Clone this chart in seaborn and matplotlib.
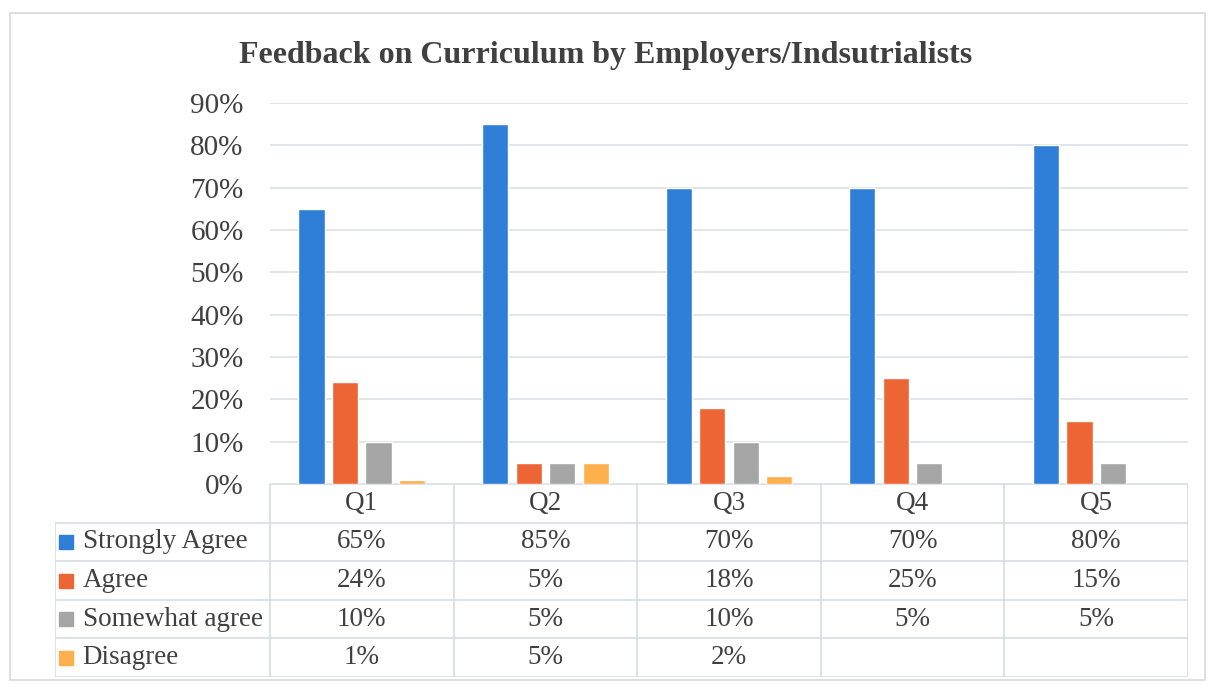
import numpy as np
import pandas as pd
import matplotlib
matplotlib.use('Agg')
import matplotlib.pyplot as plt
import seaborn as sns
from matplotlib.patches import Rectangle

# Data
questions = ['Q1', 'Q2', 'Q3', 'Q4', 'Q5']
series = ['Strongly Agree', 'Agree', 'Somewhat agree', 'Disagree']
strongly_agree = [65, 85, 70, 70, 80]
agree = [24, 5, 18, 25, 15]
somewhat_agree = [10, 5, 10, 5, 5]
disagree = [1, 5, 2, None, None]
colors = ['#2F7FD8', '#EE6535', '#A5A5A5', '#FDB04C']

values = [strongly_agree, agree, somewhat_agree, disagree]
rows = []
for name, vals in zip(series, values):
    for q, v in zip(questions, vals):
        if v is not None:
            rows.append({'question': q, 'series': name, 'value': v / 100})
df = pd.DataFrame(rows)

sns.set_theme(style='white')
plt.rcParams['font.family'] = ['Liberation Serif', 'DejaVu Serif']

W, H = 1211, 684
fig = plt.figure(figsize=(W / 100, H / 100), dpi=100)

def fx(px):
    return px / W

def fy(py):
    return 1 - py / H

# outer chart frame
fig.patches.append(Rectangle((fx(10), fy(680)), fx(1205) - fx(10), fy(13) - fy(680),
                             transform=fig.transFigure, fill=False,
                             edgecolor='#D9D9D9', linewidth=1.2))

# bar chart area
ax = fig.add_axes([fx(270), fy(484), fx(1188) - fx(270), fy(103) - fy(484)])
sns.barplot(data=df, x='question', y='value', hue='series', hue_order=series,
            order=questions, palette=colors, width=0.73, gap=0.22,
            saturation=1, ax=ax, legend=False)
ax.set_xlim(-0.5, 4.5)
ax.set_ylim(0, 0.9)
ax.set_yticks(np.arange(0, 0.91, 0.1))
ax.set_yticklabels([f'{int(round(t * 100))}%' for t in np.arange(0, 0.91, 0.1)],
                   fontsize=21, color='#404040')
ax.tick_params(axis='y', length=0, pad=19)
ax.set_xticks([])
ax.set_xlabel('')
ax.set_ylabel('')
ax.yaxis.grid(True, color='#D9DEE6', linewidth=1.1)
ax.set_axisbelow(True)
for s in ax.spines.values():
    s.set_visible(False)

fig.text(0.5, fy(55), 'Feedback on Curriculum by Employers/Indsutrialists',
         ha='center', va='center', fontsize=23, fontweight='bold', color='#404040')

# data table below the chart
label_w = (270 - 55) / ((1188 - 270) / 5)
tax = fig.add_axes([fx(55), fy(677), fx(1188) - fx(55), fy(484) - fy(677)])
tax.set_xlim(-0.5 - label_w, 4.5)
tax.set_ylim(5, 0)
tax.axis('off')
line_kw = dict(color='#D3D9E2', linewidth=1.1)

# header row
tax.plot([-0.5, 4.5], [0, 0], **line_kw)
for i in range(6):
    tax.plot([i - 0.5, i - 0.5], [0, 5], **line_kw)
tax.plot([-0.5 - label_w, -0.5 - label_w], [1, 5], **line_kw)
for r in range(1, 6):
    tax.plot([-0.5 - label_w, 4.5], [r, r], **line_kw)

for i, q in enumerate(questions):
    tax.text(i, 0.5, q, ha='center', va='center', fontsize=19.5, color='#404040')

for r, (name, vals, c) in enumerate(zip(series, values, colors), start=1):
    tax.plot(-0.5 - label_w + 0.06, r + 0.5, marker='s', markersize=10,
             color=c, linestyle='none')
    tax.text(-0.5 - label_w + 0.15, r + 0.5, name, ha='left', va='center',
             fontsize=19.5, color='#404040')
    for i, v in enumerate(vals):
        if v is not None:
            tax.text(i, r + 0.5, f'{v}%', ha='center', va='center',
                     fontsize=19.5, color='#404040')

fig.savefig('out.png', dpi=100)
